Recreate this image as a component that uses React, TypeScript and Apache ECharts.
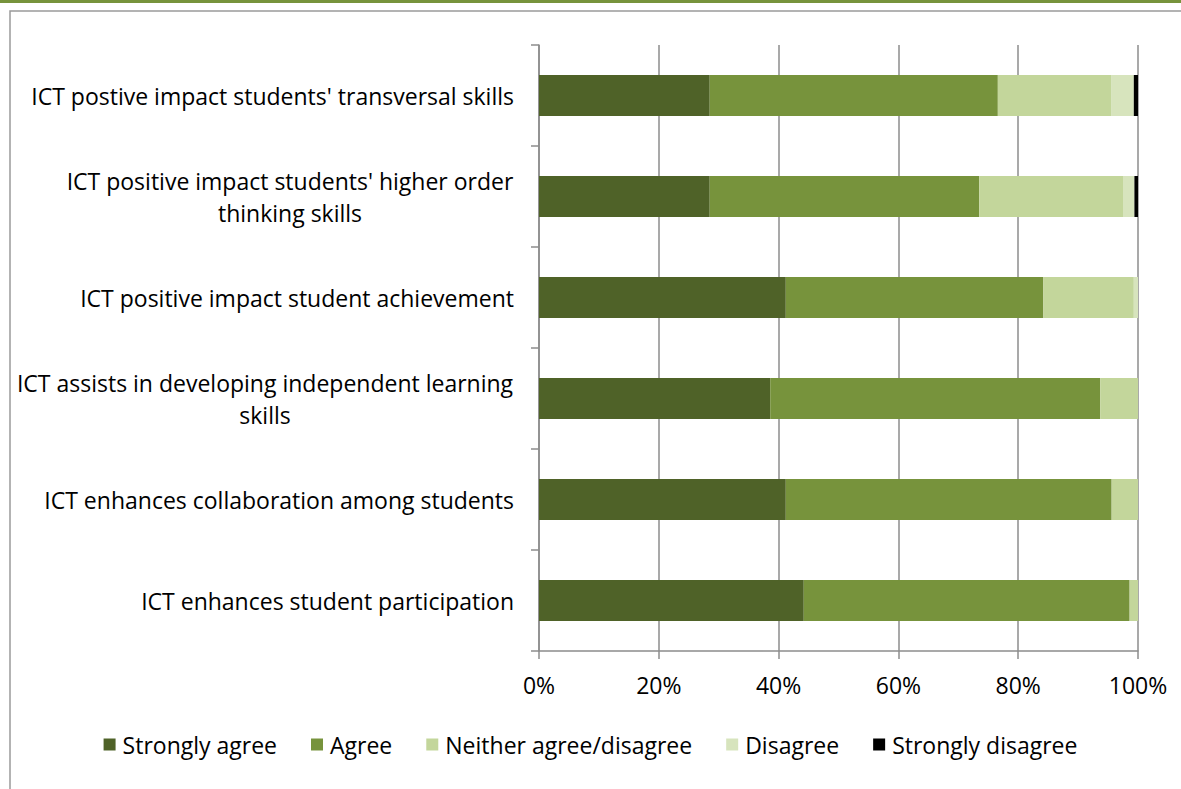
import React, { useEffect, useRef } from "react";
import * as echarts from "echarts";

const categories = [
  "ICT postive impact students' transversal skills",
  "ICT positive impact students' higher order\nthinking skills",
  "ICT positive impact student achievement",
  "ICT assists in developing independent learning\nskills",
  "ICT enhances collaboration among students",
  "ICT enhances student participation",
];

const seriesNames = [
  "Strongly agree",
  "Agree",
  "Neither agree/disagree",
  "Disagree",
  "Strongly disagree",
];

const stronglyAgree = [28.5, 28.5, 41.2, 38.6, 41.2, 44.2];
const agree = [48.1, 45.0, 43.0, 55.1, 54.4, 54.4];
const neither = [18.9, 24.0, 15.1, 6.3, 4.4, 1.4];
const disagree = [3.8, 1.9, 0.7, 0, 0, 0];
const stronglyDisagree = [0.7, 0.6, 0, 0, 0, 0];

const xTicks = [0, 20, 40, 60, 80, 100];

const colors = ["#4F6228", "#77933C", "#C3D69B", "#D7E4BD", "#000000"];

const FONT = "Open Sans";
const FS = 23;

export default function App() {
  const ref = useRef<HTMLDivElement>(null);

  useEffect(() => {
    if (!ref.current) return;
    const chart = echarts.init(ref.current, undefined, { renderer: "svg" });

    const canvas = document.createElement("canvas");
    const ctx = canvas.getContext("2d")!;
    ctx.font = `${FS}px "${FONT}"`;
    const rich: Record<string, any> = {};
    categories.forEach((c, i) => {
      const w = Math.max(...c.split("\n").map((l) => ctx.measureText(l).width));
      rich["r" + i] = {
        width: Math.ceil(w) + 1,
        align: "center",
        fontSize: FS,
        fontFamily: FONT,
        color: "#000",
        lineHeight: 32,
      };
    });

    const values = [stronglyAgree, agree, neither, disagree, stronglyDisagree];

    chart.setOption({
      animation: false,
      textStyle: { fontFamily: FONT },
      graphic: [
        {
          type: "rect",
          shape: { x: 0, y: 0, width: 1181, height: 3 },
          style: { fill: "#77933C" },
          silent: true,
        },
        {
          type: "rect",
          shape: { x: 10, y: 11, width: 1200, height: 800 },
          style: { fill: "none", stroke: "#9a9a9a", lineWidth: 1.5 },
          silent: true,
        },
      ],
      grid: { left: 539, right: 43, top: 45, bottom: 138, containLabel: false },
      legend: {
        data: seriesNames,
        left: "center",
        top: 728,
        icon: "rect",
        itemWidth: 12,
        itemHeight: 12,
        itemGap: 34,
        textStyle: { fontSize: FS, fontFamily: FONT, color: "#000", padding: [0, 0, 0, 2] },
      },
      xAxis: {
        type: "value",
        min: xTicks[0],
        max: xTicks[xTicks.length - 1],
        interval: 20,
        axisLine: { show: true, lineStyle: { color: "#8c8c8c", width: 1.5 } },
        axisTick: { show: true, length: 8, lineStyle: { color: "#8c8c8c", width: 1.5 } },
        splitLine: { show: true, lineStyle: { color: "#8c8c8c", width: 1.5 } },
        axisLabel: {
          formatter: "{value}%",
          fontSize: FS,
          fontFamily: FONT,
          color: "#000",
          margin: 22,
        },
      },
      yAxis: {
        type: "category",
        data: categories,
        inverse: true,
        axisLine: { show: true, lineStyle: { color: "#8c8c8c", width: 1.5 } },
        axisTick: { show: true, length: 8, interval: 0, lineStyle: { color: "#8c8c8c", width: 1.5 } },
        axisLabel: {
          interval: 0,
          margin: 25,
          fontSize: FS,
          fontFamily: FONT,
          color: "#000",
          lineHeight: 32,
          rich,
          formatter: (v: string, i: number) => {
            if (v.indexOf("\n") < 0) return v;
            return v
              .split("\n")
              .map((l) => `{r${i}|${l}}`)
              .join("\n");
          },
        },
      },
      series: seriesNames.map((name, k) => ({
        name,
        type: "bar",
        stack: "total",
        barWidth: 41,
        itemStyle: { color: colors[k] },
        data: values[k],
      })),
    });

    return () => chart.dispose();
  }, []);

  return (
    <div
      ref={ref}
      style={{ position: "fixed", left: 0, top: 0, width: 1181, height: 789, background: "#fff" }}
    />
  );
}
